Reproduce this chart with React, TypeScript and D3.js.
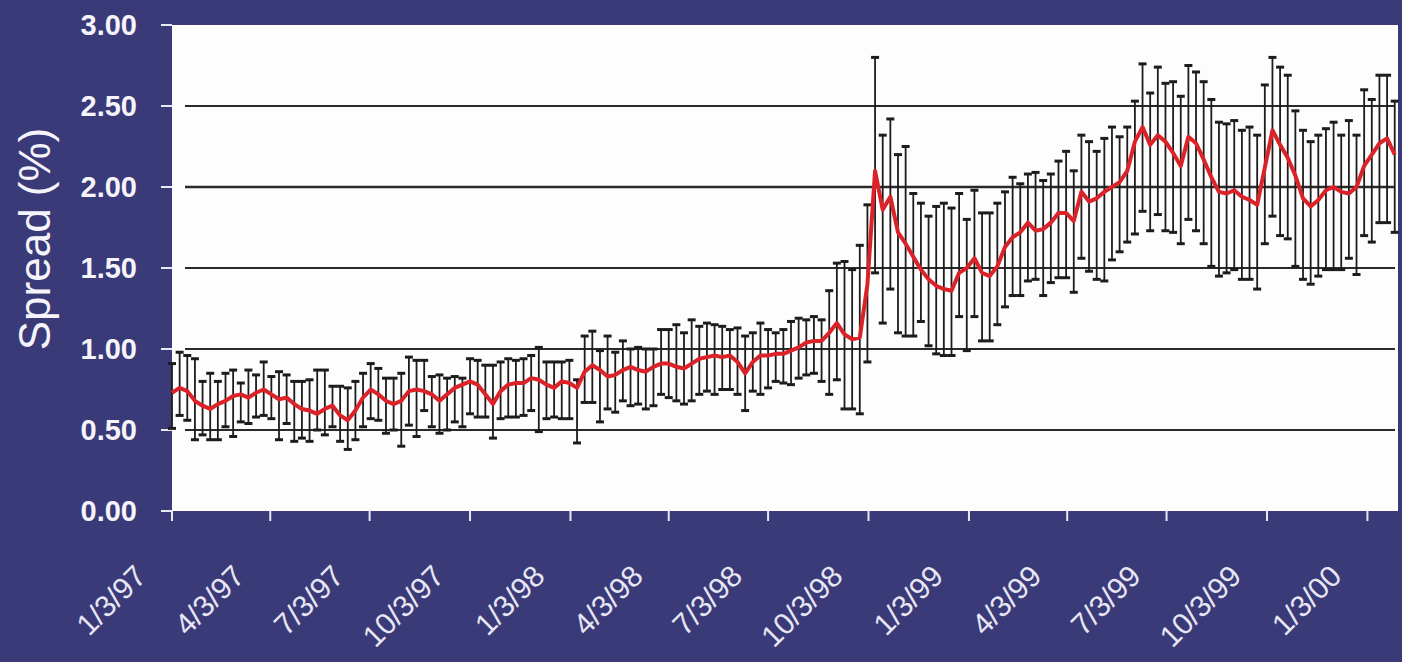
import React from "react";
import * as d3 from "d3";

// Weekly observations starting 1/3/97
const START_DATE = "1/3/97";
const END_DATE = "1/31/00";

const meanSpread = [
  0.73, 0.76, 0.74, 0.68, 0.65, 0.63, 0.66, 0.68, 0.71, 0.72,
  0.70, 0.73, 0.75, 0.72, 0.69, 0.70, 0.66, 0.63, 0.62, 0.60,
  0.63, 0.65, 0.59, 0.56, 0.62, 0.70, 0.75, 0.72, 0.68, 0.66,
  0.68, 0.74, 0.75, 0.74, 0.72, 0.68, 0.72, 0.76, 0.78, 0.80,
  0.78, 0.72, 0.66, 0.74, 0.78, 0.79, 0.79, 0.82, 0.81, 0.78,
  0.76, 0.80, 0.79, 0.76, 0.86, 0.90, 0.87, 0.83, 0.84, 0.87,
  0.89, 0.87, 0.86, 0.89, 0.91, 0.91, 0.89, 0.88, 0.91, 0.94,
  0.95, 0.96, 0.95, 0.96, 0.92, 0.85, 0.92, 0.96, 0.96, 0.97,
  0.97, 0.99, 1.01, 1.04, 1.05, 1.05, 1.10, 1.16, 1.09, 1.06,
  1.07, 1.40, 2.10, 1.86, 1.94, 1.72, 1.65, 1.57, 1.49, 1.43,
  1.39, 1.37, 1.36, 1.47, 1.50, 1.56, 1.47, 1.45, 1.51, 1.63,
  1.69, 1.72, 1.78, 1.73, 1.74, 1.78, 1.84, 1.84, 1.79, 1.97,
  1.91, 1.93, 1.97, 2.00, 2.03, 2.10, 2.28, 2.37, 2.26, 2.32,
  2.28, 2.21, 2.13, 2.31, 2.27, 2.17, 2.06, 1.97, 1.96, 1.98,
  1.94, 1.92, 1.89, 2.12, 2.35, 2.26, 2.18, 2.07, 1.93, 1.88,
  1.92, 1.98, 2.00, 1.97, 1.96, 2.00, 2.13, 2.20, 2.27, 2.30, 2.20,
];

const upperSpread = [
  0.91, 0.98, 0.96, 0.94, 0.80, 0.85, 0.80, 0.85, 0.87, 0.79,
  0.87, 0.84, 0.92, 0.83, 0.86, 0.84, 0.80, 0.80, 0.81, 0.87,
  0.87, 0.77, 0.77, 0.76, 0.80, 0.85, 0.91, 0.88, 0.82, 0.82,
  0.85, 0.95, 0.93, 0.93, 0.83, 0.84, 0.82, 0.83, 0.82, 0.94,
  0.93, 0.90, 0.90, 0.92, 0.94, 0.93, 0.94, 0.96, 1.01, 0.92,
  0.92, 0.92, 0.93, 0.81, 1.08, 1.11, 0.99, 1.08, 0.98, 1.05,
  1.00, 1.01, 1.00, 1.00, 1.12, 1.12, 1.15, 1.10, 1.18, 1.14,
  1.16, 1.15, 1.14, 1.12, 1.13, 1.08, 1.10, 1.16, 1.12, 1.10,
  1.12, 1.17, 1.19, 1.18, 1.20, 1.18, 1.36, 1.53, 1.54, 1.49,
  1.64, 1.89, 2.80, 2.32, 2.42, 2.20, 2.25, 1.96, 1.90, 1.82,
  1.88, 1.90, 1.87, 1.96, 1.80, 1.98, 1.84, 1.84, 1.90, 1.97,
  2.06, 2.02, 2.08, 2.09, 2.04, 2.08, 2.16, 2.22, 2.10, 2.32,
  2.28, 2.22, 2.30, 2.37, 2.31, 2.37, 2.53, 2.76, 2.58, 2.74,
  2.64, 2.65, 2.56, 2.75, 2.71, 2.65, 2.54, 2.40, 2.39, 2.41,
  2.35, 2.37, 2.32, 2.63, 2.80, 2.74, 2.69, 2.47, 2.35, 2.28,
  2.32, 2.36, 2.40, 2.32, 2.41, 2.32, 2.60, 2.54, 2.69, 2.69, 2.53,
];

const lowerSpread = [
  0.51, 0.59, 0.56, 0.44, 0.47, 0.44, 0.44, 0.52, 0.46, 0.55,
  0.54, 0.58, 0.59, 0.57, 0.44, 0.54, 0.43, 0.45, 0.43, 0.50,
  0.47, 0.52, 0.43, 0.38, 0.44, 0.52, 0.57, 0.56, 0.48, 0.50,
  0.40, 0.53, 0.46, 0.62, 0.52, 0.48, 0.50, 0.55, 0.52, 0.60,
  0.58, 0.58, 0.45, 0.57, 0.58, 0.58, 0.59, 0.62, 0.49, 0.57,
  0.58, 0.57, 0.57, 0.42, 0.67, 0.67, 0.55, 0.63, 0.61, 0.68,
  0.65, 0.66, 0.63, 0.65, 0.72, 0.70, 0.68, 0.66, 0.68, 0.72,
  0.74, 0.72, 0.75, 0.75, 0.72, 0.62, 0.74, 0.72, 0.76, 0.80,
  0.79, 0.78, 0.82, 0.84, 0.85, 0.80, 0.72, 0.81, 0.63, 0.63,
  0.60, 0.92, 1.47, 1.16, 1.37, 1.10, 1.08, 1.08, 1.17, 1.02,
  0.97, 0.96, 0.96, 1.20, 0.99, 1.20, 1.05, 1.05, 1.15, 1.26,
  1.33, 1.33, 1.42, 1.43, 1.33, 1.41, 1.44, 1.44, 1.35, 1.56,
  1.48, 1.43, 1.42, 1.55, 1.60, 1.66, 1.71, 1.85, 1.73, 1.83,
  1.73, 1.72, 1.65, 1.80, 1.73, 1.65, 1.51, 1.45, 1.47, 1.49,
  1.43, 1.43, 1.37, 1.65, 1.82, 1.70, 1.68, 1.51, 1.43, 1.40,
  1.45, 1.49, 1.49, 1.49, 1.56, 1.46, 1.70, 1.66, 1.78, 1.78, 1.72,
];

const xTickLabels = [
  "1/3/97", "4/3/97", "7/3/97", "10/3/97",
  "1/3/98", "4/3/98", "7/3/98", "10/3/98",
  "1/3/99", "4/3/99", "7/3/99", "10/3/99",
  "1/3/00",
];

const yTicks = [0, 0.5, 1.0, 1.5, 2.0, 2.5, 3.0];
const gridValues = [0.5, 1.0, 1.5, 2.0, 2.5];
const yTitle = "Spread (%)";

export default function App() {
  const W = 1402;
  const H = 662;
  const parse = d3.timeParse("%m/%d/%y");
  const start = parse(START_DATE) as Date;
  const end = parse(END_DATE) as Date;

  const plotLeft = 172;
  const plotRight = 1398;
  const plotTop = 25;
  const plotBottom = 511;

  const x = d3.scaleTime().domain([start, end]).range([plotLeft, plotRight]);
  const y = d3.scaleLinear().domain([0, 3]).range([plotBottom, plotTop]);

  const dates = meanSpread.map((_, i) => d3.timeDay.offset(start, 7 * i));
  const xs = dates.map((d) => x(d));

  const line = d3
    .line<number>()
    .x((_, i) => xs[i])
    .y((d) => y(d));

  const fmt = d3.format(".2f");
  const capW = 4;

  return (
    <div style={{ position: "absolute", left: 0, top: 0 }}>
      <svg width={W} height={H} style={{ display: "block" }}>
        <rect x={0} y={0} width={W} height={H} fill="#3b3a78" />
        <rect
          x={plotLeft}
          y={plotTop}
          width={plotRight - plotLeft}
          height={plotBottom - plotTop}
          fill="#fdfdfd"
        />
        {gridValues.map((v) => (
          <line
            key={"g" + v}
            x1={185}
            x2={1395}
            y1={y(v)}
            y2={y(v)}
            stroke="#2a2a2a"
            strokeWidth={v === 2 ? 2.6 : 2}
          />
        ))}
        {/* y ticks and labels */}
        {yTicks.map((v) => (
          <g key={"y" + v}>
            <line
              x1={161}
              x2={plotLeft}
              y1={y(v)}
              y2={y(v)}
              stroke="#e8e8f0"
              strokeWidth={2}
            />
            <text
              x={137}
              y={y(v)}
              dy="0.36em"
              textAnchor="end"
              fill="#f4f4fa"
              fontFamily="'Liberation Sans', Arial, sans-serif"
              fontWeight="bold"
              fontSize={29}
            >
              {fmt(v)}
            </text>
          </g>
        ))}
        {/* x ticks and labels */}
        {xTickLabels.map((lab) => {
          const d = parse(lab) as Date;
          const tx = x(d);
          return (
            <g key={"x" + lab}>
              <line
                x1={tx}
                x2={tx}
                y1={plotBottom}
                y2={plotBottom + 10}
                stroke="#e8e8f0"
                strokeWidth={2}
              />
              <text
                transform={`translate(${tx - 24},${578}) rotate(-45)`}
                textAnchor="end"
                fill="#e6e6f4"
                fontFamily="'Liberation Sans', Arial, sans-serif"
                fontSize={30}
              >
                {lab}
              </text>
            </g>
          );
        })}
        <text
          transform={`translate(50,239) rotate(-90)`}
          textAnchor="middle"
          fill="#f4f4fa"
          fontFamily="'Liberation Sans', Arial, sans-serif"
          fontSize={44}
        >
          {yTitle}
        </text>
        {/* error bars */}
        <g stroke="#1c1c1c">
          {meanSpread.map((_, i) => {
            const cx = xs[i];
            const yt = y(upperSpread[i]);
            const yb = y(lowerSpread[i]);
            return (
              <g key={"e" + i}>
                <line x1={cx} x2={cx} y1={yt} y2={yb} strokeWidth={1.8} />
                <line x1={cx - capW} x2={cx + capW} y1={yt} y2={yt} strokeWidth={3} />
                <line x1={cx - capW} x2={cx + capW} y1={yb} y2={yb} strokeWidth={3} />
              </g>
            );
          })}
        </g>
        <path
          d={line(meanSpread) || ""}
          fill="none"
          stroke="#dc2229"
          strokeWidth={4}
          strokeLinejoin="round"
        />
      </svg>
    </div>
  );
}
